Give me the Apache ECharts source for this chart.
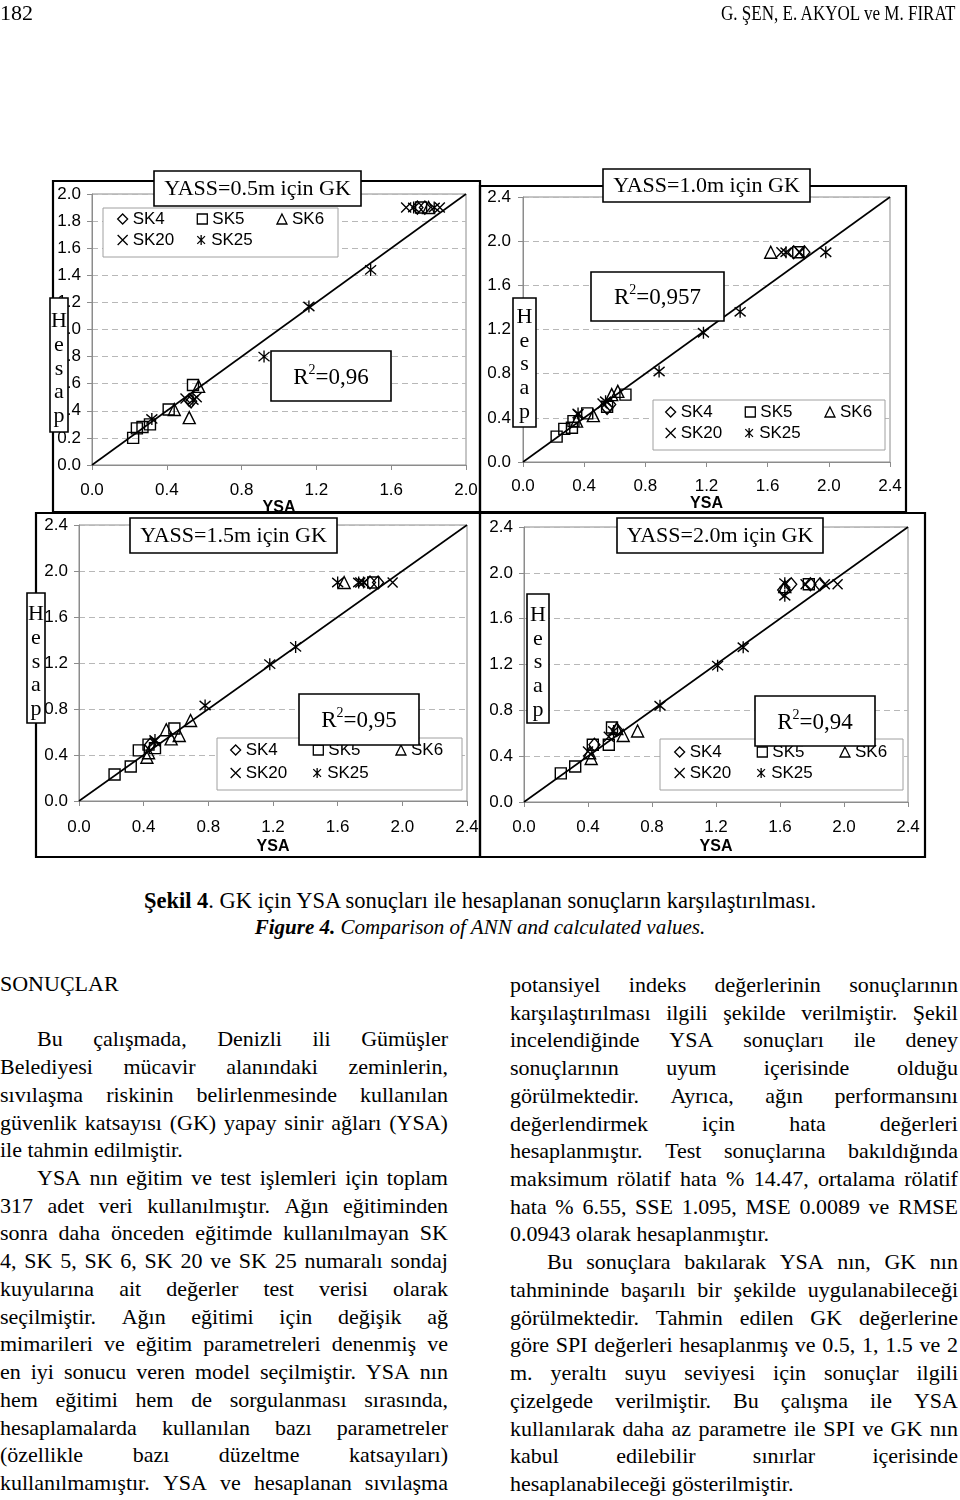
<!DOCTYPE html>
<html><head><meta charset="utf-8">
<script src="https://cdn.jsdelivr.net/npm/echarts@6/dist/echarts.min.js"></script>
<style>
body{margin:0;background:#fff;width:960px;height:1500px;position:relative;overflow:hidden;font-family:'Liberation Serif',serif;color:#000}
#chart{position:absolute;left:0;top:0;width:960px;height:870px}
.hdr{position:absolute;top:0;font-size:22px;line-height:26px;white-space:nowrap}
.cap{position:absolute;left:0;width:960px;text-align:center;line-height:27px;white-space:nowrap}
.col{position:absolute;width:448px;font-size:22px;line-height:27.72px}
.ln{height:27.72px;white-space:nowrap}
.j{display:flex;justify-content:space-between}
</style></head><body>
<div id="chart"></div>
<div class="hdr" style="left:0;">182</div>
<div class="hdr" style="right:5px;transform:scaleX(0.775);transform-origin:right center;">G. ŞEN, E. AKYOL ve M. FIRAT</div>
<div class="cap" style="top:887px;font-size:22.5px;"><b>Şekil 4</b>. GK için YSA sonuçları ile hesaplanan sonuçların karşılaştırılması.</div>
<div class="cap" style="top:914px;font-size:21px;"><i><b>Figure 4.</b> Comparison of ANN and calculated values.</i></div>
<div class="col" id="leftCol" style="left:0;top:970px;"></div>
<div class="col" id="rightCol" style="left:510px;top:971px;"></div>
<script>
// ---------- data ----------
const categories = ['SK4', 'SK5', 'SK6', 'SK20', 'SK25'];
const panelTitles = ['YASS=0.5m için GK', 'YASS=1.0m için GK', 'YASS=1.5m için GK', 'YASS=2.0m için GK'];
const r2Values = ['0,96', '0,957', '0,95', '0,94'];
const axisMax = [2.0, 2.4, 2.4, 2.4];
const xInterval = [0.4, 0.4, 0.4, 0.4];
const yInterval = [0.2, 0.4, 0.4, 0.4];
const xAxisName = 'YSA';
const yAxisLetters = ['H', 'e', 's', 'a', 'p'];

// YASS = 0.5 m
const p05SK4 = [[0.52, 0.48], [0.53, 0.47], [1.74, 1.90], [1.78, 1.90]];
const p05SK5 = [[0.22, 0.20], [0.24, 0.27], [0.27, 0.28], [0.31, 0.30], [0.41, 0.41], [0.54, 0.59], [1.76, 1.90]];
const p05SK6 = [[0.44, 0.41], [0.52, 0.35], [0.57, 0.58], [1.80, 1.90]];
const p05SK20 = [[0.50, 0.49], [0.56, 0.50], [1.68, 1.90], [1.86, 1.90]];
const p05SK25 = [[0.32, 0.34], [0.54, 0.48], [0.92, 0.80], [1.16, 1.17], [1.49, 1.44], [1.72, 1.90], [1.83, 1.90]];
// YASS = 1.0 m
const p10SK4 = [[0.55, 0.49], [0.57, 0.52], [1.77, 1.90], [1.84, 1.90]];
const p10SK5 = [[0.22, 0.23], [0.27, 0.30], [0.32, 0.31], [0.33, 0.37], [0.42, 0.44], [0.55, 0.50], [0.67, 0.61], [1.80, 1.90]];
const p10SK6 = [[0.35, 0.37], [0.46, 0.42], [0.58, 0.61], [0.62, 0.64], [1.62, 1.90]];
const p10SK20 = [[0.36, 0.43], [0.52, 0.53], [1.69, 1.90], [1.81, 1.90]];
const p10SK25 = [[0.36, 0.44], [0.54, 0.55], [0.89, 0.82], [1.18, 1.17], [1.42, 1.36], [1.72, 1.90], [1.98, 1.90]];
// YASS = 1.5 m
const p15SK4 = [[0.44, 0.49], [1.80, 1.90], [1.85, 1.90]];
const p15SK5 = [[0.22, 0.23], [0.32, 0.30], [0.37, 0.44], [0.43, 0.49], [0.47, 0.46], [0.59, 0.63], [1.82, 1.90]];
const p15SK6 = [[0.42, 0.38], [0.43, 0.42], [0.54, 0.62], [0.57, 0.54], [0.62, 0.57], [0.69, 0.70], [1.64, 1.90]];
const p15SK20 = [[0.47, 0.52], [1.74, 1.90], [1.94, 1.90]];
const p15SK25 = [[0.47, 0.53], [0.78, 0.83], [1.18, 1.19], [1.34, 1.34], [1.60, 1.90], [1.73, 1.90], [1.76, 1.90]];
// YASS = 2.0 m
const p20SK4 = [[0.44, 0.50], [0.58, 0.63], [1.62, 1.85], [1.67, 1.90], [1.79, 1.90], [1.85, 1.90]];
const p20SK5 = [[0.23, 0.25], [0.32, 0.31], [0.43, 0.50], [0.53, 0.50], [0.55, 0.65], [1.78, 1.90]];
const p20SK6 = [[0.42, 0.38], [0.41, 0.43], [0.58, 0.64], [0.62, 0.58], [0.71, 0.62], [1.63, 1.88]];
const p20SK20 = [[0.40, 0.44], [0.53, 0.57], [1.76, 1.90], [1.88, 1.90], [1.96, 1.90]];
const p20SK25 = [[0.56, 0.62], [0.85, 0.84], [1.21, 1.19], [1.37, 1.35], [1.63, 1.91], [1.63, 1.80]];

const panelData = [
  [p05SK4, p05SK5, p05SK6, p05SK20, p05SK25],
  [p10SK4, p10SK5, p10SK6, p10SK20, p10SK25],
  [p15SK4, p15SK5, p15SK6, p15SK20, p15SK25],
  [p20SK4, p20SK5, p20SK6, p20SK20, p20SK25]
];

// ---------- layout / style ----------
const layout = [
  {grid: [92, 194, 374, 271], frame: [53, 181, 427, 331], title: [154, 171, 207, 35], r2: [271, 351, 120, 50], hesap: [50, 298, 18, 134], hesapDy: 4, legendBox: [103, 208, 235, 49], legendLeft: 117, legendTops: [210, 231], textW: 52, gap: 12, nameGap: 30, xMargin: 17, yMargin: 11},
  {grid: [523, 197, 367, 265], frame: [480, 186, 426, 326], title: [603, 169, 207, 33], r2: [591, 272, 133, 49], hesap: [513, 298, 23, 129], hesapDy: 2, legendBox: [653, 400, 232, 50], legendLeft: 665, legendTops: [403, 424], textW: 52, gap: 12, nameGap: 33, xMargin: 16, yMargin: 12},
  {grid: [79, 525, 388, 276], frame: [36, 513, 444, 344], title: [130, 518, 207, 35], r2: [299, 694, 120, 51], hesap: [27, 593, 18, 130], hesapDy: 4, legendBox: [217, 738, 245, 52], legendLeft: 230, legendTops: [741, 764], textW: 54, gap: 13, nameGap: 38, xMargin: 18, yMargin: 11},
  {grid: [524, 527, 384, 275], frame: [480, 513, 445, 344], title: [617, 518, 206, 35], r2: [755, 696, 120, 50], hesap: [527, 594, 22, 129], hesapDy: 4, legendBox: [660, 739, 243, 51], legendLeft: 674, legendTops: [743, 764], textW: 54, gap: 13, nameGap: 37, xMargin: 17, yMargin: 11}
];
const symbols = {
  SK4: {symbol: 'diamond', size: [11, 13]},
  SK5: {symbol: 'rect', size: [11, 11]},
  SK6: {symbol: 'triangle', size: [12, 12]},
  SK20: {symbol: 'path://M0,0L10,10M10,0L0,10', size: [10, 10]},
  SK25: {symbol: 'path://M0,0L10,10M10,0L0,10M5,-1.5L5,11.5', size: [11, 12]}
};
const SANS = 'Liberation Sans';
const SERIF = 'Liberation Serif';
const AX = '#8c8c8c';

const chart = echarts.init(document.getElementById('chart'));
const grids = [], xAxes = [], yAxes = [], series = [], legends = [], graphics = [];
const fmt = v => v.toFixed(1);

layout.forEach((L, i) => {
  grids.push({left: L.grid[0], top: L.grid[1], width: L.grid[2], height: L.grid[3], show: true,
    borderColor: AX, borderWidth: 1, backgroundColor: 'transparent', outerBoundsMode: 'none', containLabel: false});
  xAxes.push({type: 'value', gridIndex: i, min: 0, max: axisMax[i], interval: xInterval[i],
    name: xAxisName, nameLocation: 'middle', nameGap: L.nameGap,
    nameTextStyle: {fontFamily: SANS, fontWeight: 'bold', fontSize: 16, color: '#000'},
    axisLine: {show: true, onZero: false, lineStyle: {color: AX, width: 1}},
    axisTick: {show: true, inside: false, length: 5, lineStyle: {color: AX}},
    axisLabel: {show: true, margin: L.xMargin, fontFamily: SANS, fontSize: 17, color: '#000', formatter: fmt, showMinLabel: true, showMaxLabel: true},
    splitLine: {show: false}});
  yAxes.push({type: 'value', gridIndex: i, min: 0, max: axisMax[i], interval: yInterval[i],
    axisLine: {show: true, onZero: false, lineStyle: {color: AX, width: 1}},
    axisTick: {show: true, inside: false, length: 5, lineStyle: {color: AX}},
    axisLabel: {show: true, margin: L.yMargin, fontFamily: SANS, fontSize: 17, color: '#000', formatter: fmt, showMinLabel: true, showMaxLabel: true},
    splitLine: {show: true, lineStyle: {color: '#b8b8b8', type: [6, 4], width: 1}}});

  categories.forEach((c, k) => {
    series.push({type: 'scatter', name: c, xAxisIndex: i, yAxisIndex: i, data: panelData[i][k],
      symbol: symbols[c].symbol, symbolSize: symbols[c].size,
      itemStyle: {color: 'rgba(0,0,0,0)', borderColor: '#000', borderWidth: 1.4, opacity: 1},
      emphasis: {disabled: true}, z: 3});
  });
  series.push({type: 'line', name: 'diag' + i, xAxisIndex: i, yAxisIndex: i,
    data: [[0, 0], [axisMax[i], axisMax[i]]], symbol: 'none', silent: true,
    lineStyle: {color: '#000', width: 1.6}, z: 2, animation: false});

  const legBase = {orient: 'horizontal', padding: 0, itemWidth: 10, itemHeight: 10, itemGap: L.gap,
    selectedMode: false, left: L.legendLeft,
    textStyle: {fontFamily: SANS, fontSize: 17, color: '#000', width: L.textW, lineHeight: 18, overflow: 'none'},
    itemStyle: {borderWidth: 1.3}};
  legends.push(Object.assign({}, legBase, {top: L.legendTops[0], data: categories.slice(0, 3)}));
  legends.push(Object.assign({}, legBase, {top: L.legendTops[1], data: categories.slice(3)}));

  // legend box (under legend)
  graphics.push({type: 'rect', z: 1, shape: {x: L.legendBox[0], y: L.legendBox[1], width: L.legendBox[2], height: L.legendBox[3]},
    style: {fill: '#fff', stroke: '#a0a0a0', lineWidth: 1}});
  // outer frame
  graphics.push({type: 'rect', z: 100, shape: {x: L.frame[0], y: L.frame[1], width: L.frame[2], height: L.frame[3]},
    style: {fill: 'none', stroke: '#000', lineWidth: 2.2}});
  // title box
  graphics.push({type: 'rect', z: 101, shape: {x: L.title[0], y: L.title[1], width: L.title[2], height: L.title[3]},
    style: {fill: '#fff', stroke: '#000', lineWidth: 1.6}});
  graphics.push({type: 'text', z: 102, x: L.title[0] + L.title[2] / 2, y: L.title[1] + L.title[3] / 2 + 1,
    style: {text: panelTitles[i], fontFamily: SERIF, fontSize: 22, fill: '#000', align: 'center', verticalAlign: 'middle'}});
  // R2 box
  graphics.push({type: 'rect', z: 101, shape: {x: L.r2[0], y: L.r2[1], width: L.r2[2], height: L.r2[3]},
    style: {fill: '#fff', stroke: '#000', lineWidth: 1.6}});
  graphics.push({type: 'text', z: 102, x: L.r2[0] + L.r2[2] / 2, y: L.r2[1] + L.r2[3] / 2,
    style: {text: '{a|R}{b|2}{a|=' + r2Values[i] + '}', align: 'center', verticalAlign: 'middle',
      rich: {a: {fontFamily: SERIF, fontSize: 23, fill: '#000', lineHeight: 26, verticalAlign: 'bottom'},
             b: {fontFamily: SERIF, fontSize: 14, fill: '#000', lineHeight: 14, verticalAlign: 'top'}}}});
  // Hesap box
  graphics.push({type: 'rect', z: 101, shape: {x: L.hesap[0], y: L.hesap[1], width: L.hesap[2], height: L.hesap[3]},
    style: {fill: '#fff', stroke: '#000', lineWidth: 1.6}});
  graphics.push({type: 'text', z: 102, x: L.hesap[0] + L.hesap[2] / 2, y: L.hesap[1] + L.hesap[3] / 2 + L.hesapDy,
    style: {text: yAxisLetters.join('\n'), fontFamily: SERIF, fontSize: 22, lineHeight: 23.7, fill: '#000', align: 'center', verticalAlign: 'middle'}});
});

chart.setOption({
  animation: false,
  backgroundColor: '#fff',
  grid: grids, xAxis: xAxes, yAxis: yAxes, series: series, legend: legends,
  graphic: {elements: graphics}
});

// ---------- body text ----------
const leftHeading = 'SONUÇLAR';
const leftPara1 = ['Bu çalışmada, Denizli ili Gümüşler', 'Belediyesi mücavir alanındaki zeminlerin,', 'sıvılaşma riskinin belirlenmesinde kullanılan', 'güvenlik katsayısı (GK) yapay sinir ağları (YSA)', 'ile tahmin edilmiştir.'];
const leftPara2 = ['YSA nın eğitim ve test işlemleri için toplam', '317 adet veri kullanılmıştır. Ağın eğitiminden', 'sonra daha önceden eğitimde kullanılmayan SK', '4, SK 5, SK 6, SK 20 ve SK 25 numaralı sondaj', 'kuyularına ait değerler test verisi olarak', 'seçilmiştir. Ağın eğitimi için değişik ağ', 'mimarileri ve eğitim parametreleri denenmiş ve', 'en iyi sonucu veren model seçilmiştir. YSA nın', 'hem eğitimi hem de sorgulanması sırasında,', 'hesaplamalarda kullanılan bazı parametreler', '(özellikle bazı düzeltme katsayıları)', 'kullanılmamıştır. YSA ve hesaplanan sıvılaşma'];
const rightPara1 = ['potansiyel indeks değerlerinin sonuçlarının', 'karşılaştırılması ilgili şekilde verilmiştir. Şekil', 'incelendiğinde YSA sonuçları ile deney', 'sonuçlarının uyum içerisinde olduğu', 'görülmektedir. Ayrıca, ağın performansını', 'değerlendirmek için hata değerleri', 'hesaplanmıştır. Test sonuçlarına bakıldığında', 'maksimum rölatif hata % 14.47, ortalama rölatif', 'hata % 6.55, SSE 1.095, MSE 0.0089 ve RMSE', '0.0943 olarak hesaplanmıştır.'];
const rightPara2 = ['Bu sonuçlara bakılarak YSA nın, GK nın', 'tahmininde başarılı bir şekilde uygulanabileceği', 'görülmektedir. Tahmin edilen GK değerlerine', 'göre SPI değerleri hesaplanmış ve 0.5, 1, 1.5 ve 2', 'm. yeraltı suyu seviyesi için sonuçlar ilgili', 'çizelgede verilmiştir. Bu çalışma ile YSA', 'kullanılarak daha az parametre ile SPI ve GK nın', 'kabul edilebilir sınırlar içerisinde', 'hesaplanabileceği gösterilmiştir.'];

function addLine(col, text, justify, indent) {
  const d = document.createElement('div');
  d.className = 'ln' + (justify ? ' j' : '');
  if (indent) d.style.paddingLeft = '37px';
  if (justify) {
    text.split(' ').forEach(w => { const s = document.createElement('span'); s.textContent = w; d.appendChild(s); });
  } else {
    d.textContent = text;
  }
  col.appendChild(d);
}
function addPara(col, lines, indent, ends) {
  lines.forEach((t, k) => {
    const last = k === lines.length - 1;
    addLine(col, t, !(last && ends), indent && k === 0);
  });
}
const lc = document.getElementById('leftCol');
addLine(lc, leftHeading, false, false);
addLine(lc, '\u00a0', false, false);
addPara(lc, leftPara1, true, true);
addPara(lc, leftPara2, true, false);
const rc = document.getElementById('rightCol');
addPara(rc, rightPara1, false, true);
addPara(rc, rightPara2, true, true);
</script>
</body></html>
